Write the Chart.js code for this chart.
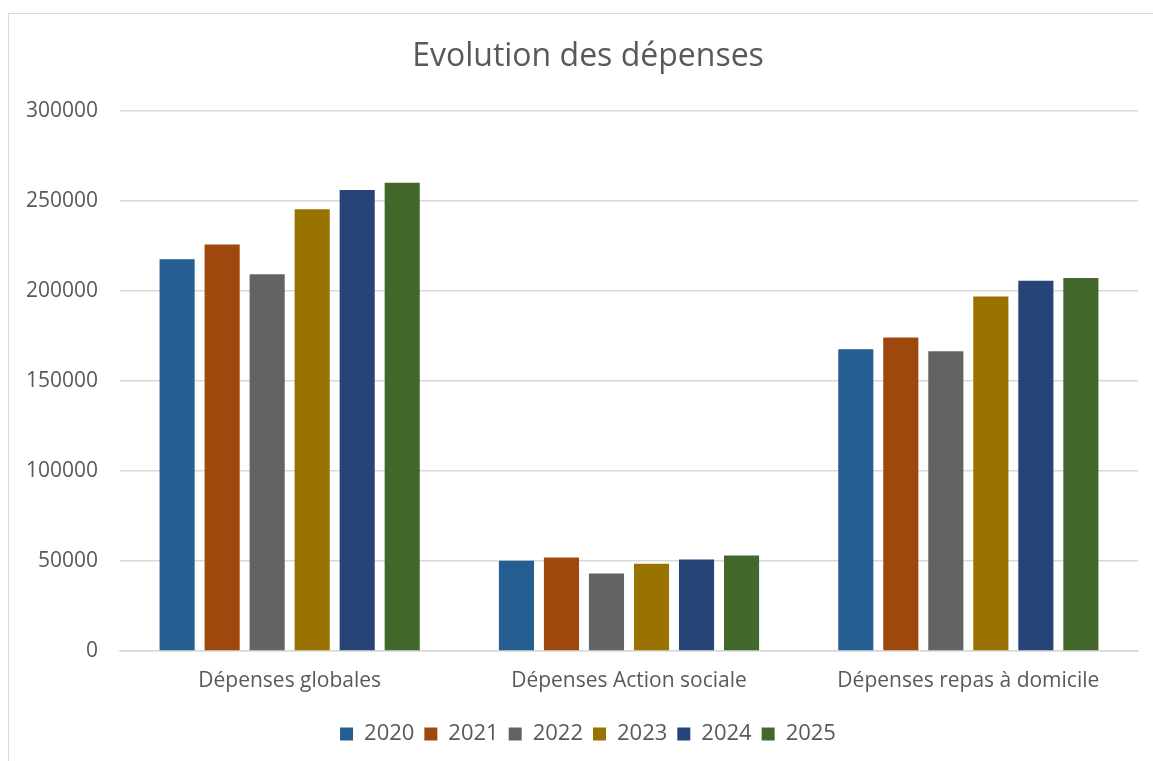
<!DOCTYPE html>
<html>
<head>
<meta charset="utf-8">
<script src="https://cdn.jsdelivr.net/npm/chart.js@4.4.0/dist/chart.umd.min.js"></script>
<style>
  html, body { margin: 0; padding: 0; background: #ffffff; }
  #frame { position: absolute; left: 8px; top: 13px; width: 1200px; height: 800px; border: 1px solid #d9d9d9; box-sizing: border-box; }
  #wrap { position: absolute; left: 0; top: 0; width: 1153px; height: 761px; }
</style>
</head>
<body>
<div id="frame"></div>
<div id="wrap"><canvas id="c" width="1153" height="761"></canvas></div>
<script>
const categories = ["Dépenses globales", "Dépenses Action sociale", "Dépenses repas à domicile"];
const years = ["2020", "2021", "2022", "2023", "2024", "2025"];
const values2020 = [217600, 50200, 167600];
const values2021 = [225900, 52000, 174200];
const values2022 = [209300, 43100, 166500];
const values2023 = [245400, 48500, 197000];
const values2024 = [256100, 50900, 205700];
const values2025 = [260200, 53100, 207200];
const yTicks = [0, 50000, 100000, 150000, 200000, 250000, 300000];

const seriesValues = [values2020, values2021, values2022, values2023, values2024, values2025];
const colors = ["#255E91", "#9E480E", "#636363", "#997300", "#264478", "#43682B"];
const fontFamily = "'Open Sans', 'Noto Sans', sans-serif";
const textColor = "#595959";

// let the y tick labels extend left of the (narrow) axis box without being clipped
const noLabelClip = {
  id: 'noLabelClip',
  beforeDraw(chart) {
    const y = chart.scales.y;
    if (y) { y._computeLabelArea = () => undefined; }
  }
};

new Chart(document.getElementById('c'), {
  type: 'bar',
  data: {
    labels: categories,
    datasets: years.map((y, i) => ({
      label: y,
      data: seriesValues[i],
      backgroundColor: colors[i],
      borderWidth: 0,
      categoryPercentage: 0.796,
      barPercentage: 0.78
    }))
  },
  plugins: [noLabelClip],
  options: {
    responsive: false,
    animation: false,
    layout: { padding: { left: 38, right: 15, top: 0, bottom: 6 } },
    plugins: {
      title: {
        display: true,
        text: "Evolution des dépenses",
        color: textColor,
        font: { family: fontFamily, size: 32, weight: 'normal' },
        padding: { top: 38, bottom: 34.6 }
      },
      legend: {
        position: 'bottom',
        labels: {
          color: textColor,
          font: { family: fontFamily, size: 22 },
          boxWidth: 13,
          boxHeight: 13,
          padding: 10
        }
      },
      tooltip: { enabled: false }
    },
    scales: {
      x: {
        grid: { display: false, drawTicks: false },
        border: { display: true, color: '#d9d9d9', width: 1.5 },
        ticks: { color: textColor, font: { family: fontFamily, size: 21 }, padding: 17 },
        afterFit: (s) => { s.height = 62; }
      },
      y: {
        min: 0,
        max: 300000,
        afterBuildTicks: (s) => { s.ticks = yTicks.map(v => ({ value: v })); },
        grid: { color: '#d9d9d9', lineWidth: 1.5, drawTicks: false },
        border: { display: false },
        ticks: {
          color: textColor,
          font: { family: fontFamily, size: 21 },
          padding: 22,
          callback: (v) => String(v)
        },
        afterFit: (s) => { s.width = 82; }
      }
    }
  }
});
</script>
</body>
</html>
